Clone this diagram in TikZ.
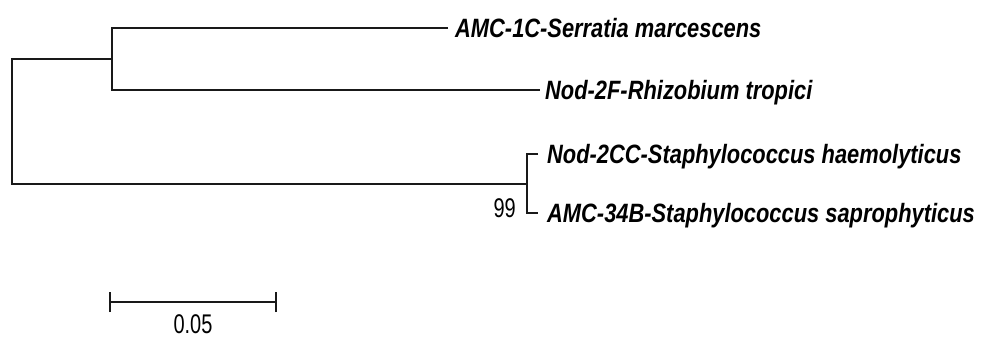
\documentclass[tikz,border=0pt]{standalone}
\usepackage{fontspec}
\setmainfont{Liberation Sans}[FakeStretch=0.825]
\newfontfamily\tickfont{Liberation Sans}[FakeStretch=0.74]

\begin{document}
\begin{tikzpicture}[x=1pt, y=-1pt,
  branch/.style={line width=2pt, line join=miter, black!90},
  taxon/.style={font=\fontsize{26.5}{26.5}\selectfont\bfseries\itshape, inner sep=0pt, anchor=base west},
  support/.style={font=\tickfont\fontsize{27}{27}\selectfont, inner sep=0pt},
  scalebar/.style={line width=2pt, black!90}]
  \useasboundingbox (0,0) rectangle (983,338);

  % internal nodes of the tree
  \coordinate (root) at (11.7,121);
  \coordinate (n1)   at (111.7,59);
  \coordinate (n2)   at (527,183.5);

  % branch tips
  \coordinate (eA) at (448,28);
  \coordinate (eB) at (540,90);
  \coordinate (eC) at (538,154);
  \coordinate (eD) at (538,213);

  % taxon labels
  \node[taxon] (tA) at (455,37.5)  {AMC-1C-Serratia marcescens};
  \node[taxon] (tB) at (545,99.5)  {Nod-2F-Rhizobium tropici};
  \node[taxon] (tC) at (547,163.5) {Nod-2CC-Staphylococcus haemolyticus};
  \node[taxon] (tD) at (547,222.5) {AMC-34B-Staphylococcus saprophyticus};

  % branches
  \draw[branch] (eA) -| (n1) |- (eB);
  \draw[branch] (n1) -| (root) |- (n2);
  \draw[branch] (eC) -| (n2) |- (eD);

  % bootstrap value
  \node[support, anchor=base east] (bs) at (516,217) {99};

  % scale bar
  \coordinate (sL) at (109.5,302);
  \coordinate (sR) at (276,302);
  \draw[scalebar] (sL) -- (sR);
  \draw[scalebar] ([yshift=-10pt]sL) -- ([yshift=10pt]sL);
  \draw[scalebar] ([yshift=-10pt]sR) -- ([yshift=10pt]sR);
  \node[support, anchor=base] (sl) at (193,333) {0.05};
\end{tikzpicture}
\end{document}
